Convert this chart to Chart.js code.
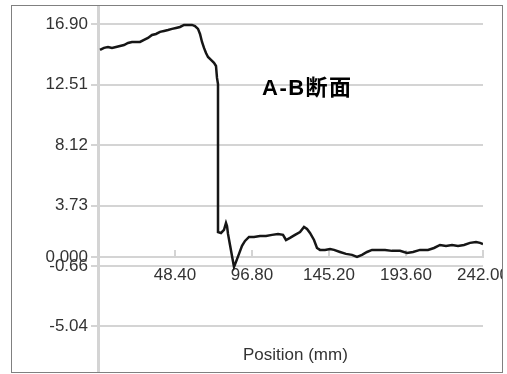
<!DOCTYPE html>
<html>
<head>
<meta charset="utf-8">
<script src="https://cdn.jsdelivr.net/npm/chart.js@4/dist/chart.umd.min.js"></script>
<style>
  body { margin: 0; background: #fff; width: 507px; height: 374px; overflow: hidden; position: relative; }
  #frame { position: absolute; left: 11px; top: 5px; width: 490px; height: 366px; border: 1px solid #808080; overflow: hidden; }
  #frame canvas { position: absolute; left: 0; top: 0; }
  .lbl { position: absolute; white-space: nowrap; font-family: "Liberation Sans", Arial, "Noto Sans CJK JP", sans-serif; color: #222; }
  #title { left: 262px; top: 77px; font-size: 22px; line-height: 22px; font-weight: bold; letter-spacing: 1.5px; color: #000; }
  #xtitle { left: 243px; top: 346px; font-size: 17px; line-height: 17px; color: #333; }
</style>
</head>
<body>
<div id="frame"><canvas id="profile" width="530" height="366"></canvas></div>
<div class="lbl" id="title">A-B断面</div>
<div class="lbl" id="xtitle">Position (mm)</div>
<script>
// 断面の位置 (mm) と高さ
var positions = [
  1.26, 3.77, 6.29, 8.80, 11.31, 13.83, 16.34, 18.86, 21.37, 23.89,
  26.40, 28.92, 31.43, 33.94, 36.46, 38.97, 41.49, 44.00, 46.52, 49.03,
  51.55, 54.06, 56.57, 59.09, 60.97, 62.86, 64.12, 65.38, 66.63, 67.89,
  69.15, 71.03, 72.92, 74.17, 74.80, 75.43, 75.43, 77.32, 79.20, 80.46,
  81.09, 81.72, 82.98, 84.23, 85.49, 86.74, 88.63, 90.52, 92.40, 94.92,
  98.06, 101.83, 105.60, 109.38, 113.15, 116.29, 118.18, 120.69, 123.84, 126.98,
  129.49, 131.38, 133.26, 135.78, 137.66, 139.55, 142.69, 145.84, 148.35, 152.12,
  155.89, 159.66, 162.81, 165.95, 169.09, 172.24, 176.01, 180.41, 184.81, 189.84,
  194.24, 198.01, 202.41, 207.44, 211.21, 214.98, 218.75, 222.52, 226.30, 230.07,
  233.84, 237.61, 240.13, 242.00
];
var heights = [
  15.02, 15.17, 15.24, 15.17, 15.24, 15.31, 15.38, 15.53, 15.60, 15.60,
  15.60, 15.75, 15.89, 16.11, 16.18, 16.33, 16.40, 16.47, 16.55, 16.62,
  16.69, 16.84, 16.84, 16.84, 16.76, 16.55, 16.18, 15.60, 15.17, 14.80,
  14.51, 14.30, 14.08, 13.86, 12.99, 12.55, 1.81, 1.74, 1.96, 2.47,
  2.25, 1.67, 0.87, 0.07, -0.73, -0.36, 0.22, 0.80, 1.16, 1.45,
  1.45, 1.52, 1.52, 1.60, 1.67, 1.60, 1.23, 1.38, 1.60, 1.81,
  2.18, 2.03, 1.74, 1.23, 0.65, 0.51, 0.51, 0.58, 0.51, 0.36,
  0.22, 0.15, 0.00, 0.15, 0.36, 0.51, 0.51, 0.51, 0.44, 0.44,
  0.29, 0.36, 0.51, 0.51, 0.65, 0.87, 0.80, 0.87, 0.80, 0.87,
  1.02, 1.09, 1.02, 0.94
];
var xTicks = [48.40, 96.80, 145.20, 193.60, 242.00];
var yTicks = [-5.04, -0.66, 0, 3.73, 8.12, 12.51, 16.90];

var points = positions.map(function(p, i) { return { x: p, y: heights[i] }; });
var gridColor = '#d4d4d4';
var tickFont = { family: '"Liberation Sans", Arial, sans-serif', size: 17 };

var ctx = document.getElementById('profile').getContext('2d');
new Chart(ctx, {
  type: 'line',
  data: {
    datasets: [{
      data: points,
      borderColor: '#161616',
      borderWidth: 2.5,
      pointRadius: 0,
      tension: 0,
      fill: false
    }]
  },
  options: {
    responsive: false,
    animation: false,
    layout: { padding: { left: 0, right: 59, top: 0, bottom: 0 } },
    plugins: { legend: { display: false }, tooltip: { enabled: false } },
    scales: {
      x: {
        type: 'linear',
        min: 0,
        max: 242,
        position: { y: 0 },
        afterBuildTicks: function(axis) {
          axis.ticks = xTicks.map(function(v) { return { value: v }; });
        },
        afterFit: function(axis) { axis.paddingTop = 0; axis.paddingBottom = 0; },
        grid: { drawOnChartArea: false, color: gridColor, lineWidth: 2, tickLength: -8 },
        border: { display: true, color: gridColor, width: 2 },
        ticks: {
          autoSkip: false,
          maxRotation: 0,
          padding: 16,
          color: '#333',
          font: tickFont,
          callback: function(v) { return Number(v).toFixed(2); }
        }
      },
      y: {
        type: 'linear',
        min: -8.35,
        max: 18.21,
        afterFit: function(axis) {
          axis.width = 86;
          axis.paddingTop = 0;
          axis.paddingBottom = 0;
        },
        afterBuildTicks: function(axis) {
          axis.ticks = yTicks.map(function(v) { return { value: v }; });
        },
        grid: { color: gridColor, lineWidth: 2, tickLength: 7 },
        border: { display: true, color: gridColor, width: 3 },
        ticks: {
          autoSkip: false,
          padding: 3,
          color: '#333',
          font: tickFont,
          callback: function(v) { return v === 0 ? '0.000' : Number(v).toFixed(2); }
        }
      }
    }
  }
});
</script>
</body>
</html>
